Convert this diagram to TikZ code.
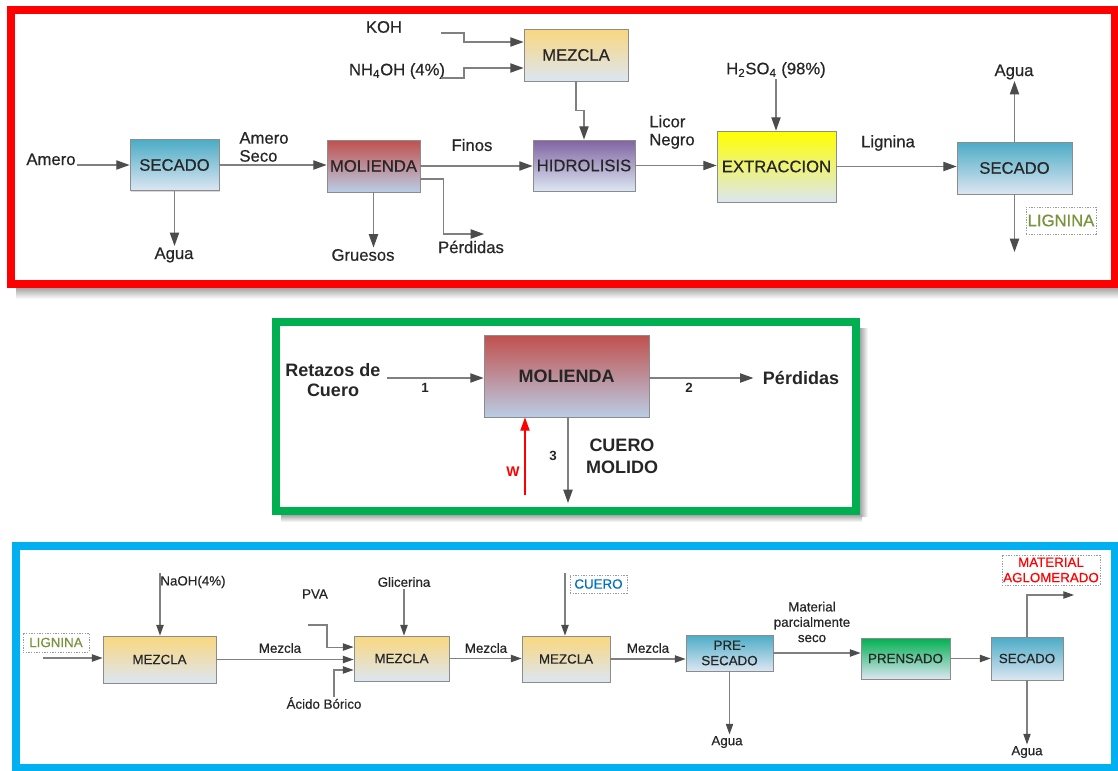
\documentclass[tikz,border=0pt]{standalone}
\usepackage{fontspec}
\setmainfont{Liberation Sans}
\newfontfamily\heavy{Liberation Sans}[FakeBold=0.5]
\usepackage{tikz}
\usetikzlibrary{arrows.meta,positioning,shadows}

\definecolor{secTop}{RGB}{75,172,198}
\definecolor{molTop}{RGB}{192,80,77}
\definecolor{molLow}{RGB}{185,205,229}
\definecolor{hidTop}{RGB}{128,100,162}
\definecolor{mezTop}{RGB}{249,215,126}
\definecolor{extTop}{RGB}{255,255,0}
\definecolor{prenTop}{RGB}{0,176,80}
\definecolor{boxLow}{RGB}{220,230,242}
\definecolor{frameRed}{RGB}{255,0,0}
\definecolor{frameGreen}{RGB}{0,176,80}
\definecolor{frameBlue}{RGB}{0,176,240}
\definecolor{olive}{RGB}{119,147,60}
\definecolor{cueroBlue}{RGB}{0,112,192}

\begin{document}
\begin{tikzpicture}[x=0.75pt, y=-0.75pt,
    box/.style={draw=black!45, line width=0.6pt, align=center, text=black!85, inner sep=1pt,
      bottom color=boxLow, drop shadow={shadow xshift=1pt, shadow yshift=-1pt, opacity=0.3}},
    flow/.style={draw=black!50, line width=0.8pt, -{Triangle[length=10pt, width=7pt, color=black!70]}},
    flowS/.style={flow, -{Triangle[length=8pt, width=5.5pt, color=black!70]}},
    lbl/.style={text=black!85, align=center, inner sep=1pt},
    tag/.style={draw=black!40, dash pattern=on 1pt off 1pt, line width=0.4pt, inner sep=1pt, align=center},
    big/.style={font=\heavy\fontsize{12.5}{13.5}\selectfont},
    mid/.style={font=\fontsize{13.5}{15}\selectfont\bfseries},
    num/.style={font=\fontsize{10}{12}\selectfont\bfseries},
    small/.style={font=\heavy\fontsize{10}{11.5}\selectfont}]
    \useasboundingbox (0,0) rectangle (1118,771);

    % Frames
    \shade[top color=black!35, bottom color=white] (16,288) rectangle (1118,299);
    \shade[left color=black!35, right color=white] (860,328) rectangle (868,516);
    \shade[top color=black!35, bottom color=white] (281,515) rectangle (862,522);
    \draw[frameRed, line width=6pt] (11,10) rectangle (1114.5,284);
    \draw[frameGreen, line width=6pt] (275.5,321.5) rectangle (856,511);
    \draw[frameBlue, line width=6pt] (15.5,546) rectangle (1114.5,768);

    % Nodes (top)
    \node[lbl, big, anchor=base] (amero) at (51,165) {Amero};
    \node[box, big, top color=secTop, minimum width=66.75pt, minimum height=38.25pt] (secA) at (174.5,165) {SECADO};
    \node[lbl, big, align=left] (ameroseco) at (264,147) {Amero\\Seco};
    \node[box, big, top color=molTop, bottom color=molLow, minimum width=69.75pt, minimum height=39pt] (molA) at (373.5,166) {MOLIENDA};
    \node[lbl, big] (finos) at (472,145) {Finos};
    \node[lbl, big] (aguaA) at (174,255) {Agua};
    \node[lbl, big] (gruesos) at (363,255) {Gruesos};
    \node[lbl, big] (perdA) at (471,247) {Pérdidas};
    \node[lbl, big] (koh) at (384,27) {KOH};
    \node[lbl, big] (nhoh) at (397,71) {NH\textsubscript{4}OH (4\%)};
    \node[box, big, top color=mezTop, minimum width=78pt, minimum height=39pt] (mezA) at (576,55) {MEZCLA};
    \node[box, big, top color=hidTop, minimum width=76.5pt, minimum height=38.25pt] (hidA) at (584,165.5) {HIDROLISIS};
    \node[lbl, big, align=left] (licor) at (672,132) {Licor\\Negro};
    \node[lbl, big] (acid) at (776,70) {H\textsubscript{2}SO\textsubscript{4} (98\%)};
    \node[box, big, top color=extTop, minimum width=89.25pt, minimum height=53.25pt] (extA) at (776.5,166.5) {EXTRACCION};
    \node[lbl, big] (lignina) at (888,143) {Lignina};
    \node[box, big, top color=secTop, minimum width=86.25pt, minimum height=39pt] (secB) at (1014.5,168) {SECADO};
    \node[lbl, big] (aguaB) at (1014,72) {Agua};
    \node[tag, big, text=olive, minimum width=52.5pt, minimum height=20pt] (ligA) at (1061,220.5) {LIGNINA};
    \coordinate (kohin) at (441,33);
    \coordinate (nhin) at (441,78);
    \coordinate (perdAin) at (484,234);
    \coordinate (ligout) at (1014.5,252);

    % Edges (top)
    \draw[flow] (amero.base east) -- (secA.west |- amero.base);
    \draw[flow] (secA.east) -- (secA.east -| molA.west);
    \draw[flow] (molA.east) -- (molA.east -| hidA.west);
    \draw[flow] (secA.south) -- (secA.south |- aguaA.north);
    \draw[flow] (molA.south) -- (molA.south |- gruesos.north);
    \draw[flow] ([yshift=-9.75pt]molA.east) -- ++(23,0) |- (perdAin);
    \draw[flow] (kohin) -- ++(23,0) |- ([yshift=9.75pt]mezA.west);
    \draw[flow] (nhin) -- ++(23,0) |- ([yshift=-9.75pt]mezA.west);
    \draw[flow] (mezA.south) -- ++(0,29) -| (hidA.north);
    \draw[flow] (hidA.east) -- (hidA.east -| extA.west);
    \draw[flow] (acid.south) -- (acid.south |- extA.north);
    \draw[flow] (extA.east) -- (extA.east -| secB.west);
    \draw[flow] (secB.north) -- (secB.north |- aguaB.south);
    \draw[flow] (secB.south) -- (ligout);

    % Nodes (middle)
    \node[box, mid, top color=molTop, bottom color=molLow, minimum width=123.75pt, minimum height=61.5pt] (molB) at (566.5,376) {MOLIENDA};
    \node[lbl, mid] (retazos) at (333,380) {Retazos de\\Cuero};
    \node[lbl, mid] (perdB) at (801,378) {Pérdidas};
    \node[lbl, mid] (molido) at (622,456) {CUERO\\[1.5pt]MOLIDO};
    \node[lbl, num] (n1) at (425,388) {1};
    \node[lbl, num] (n2) at (689,388) {2};
    \node[lbl, num] (n3) at (553,456) {3};
    \node[lbl, num, text=red, font=\fontsize{10.5}{12}\selectfont\bfseries] (w) at (513,472) {W};
    \coordinate (retin) at (387,378);
    \coordinate (cuerout) at (568,503);
    \coordinate (win) at (525,495);

    % Edges (middle)
    \draw[flow] (retin) -- (retin -| molB.west);
    \draw[flow, shorten >=6pt] (molB.east |- retin) -- (perdB.west |- retin);
    \draw[flow] (molB.south -| cuerout) -- (cuerout);
    \draw[flow, draw=red, -{Triangle[length=10pt, width=7pt, color=red]}] (win) -- (win |- molB.south);

    % Nodes (bottom)
    \node[tag, small, text=olive, minimum width=49.5pt, minimum height=14.25pt] (ligC) at (56,642.5) {LIGNINA};
    \node[box, small, top color=mezTop, minimum width=84.75pt, minimum height=35.25pt] (mezC1) at (159.5,659.5) {MEZCLA};
    \node[lbl, small] (naoh) at (193,582) {NaOH(4\%)};
    \node[lbl, small] (m1) at (280,648) {Mezcla};
    \node[lbl, small] (pva) at (315,594) {PVA};
    \node[lbl, small] (glic) at (404,582) {Glicerina};
    \node[lbl, small] (acido) at (324,703) {Ácido Bórico};
    \node[box, small, top color=mezTop, minimum width=71.25pt, minimum height=33.75pt] (mezC2) at (401.5,658.5) {MEZCLA};
    \node[lbl, small] (m2) at (486,648) {Mezcla};
    \node[box, small, top color=mezTop, minimum width=66pt, minimum height=34.5pt] (mezC3) at (566,659) {MEZCLA};
    \node[tag, small, text=cueroBlue, minimum width=42.75pt, minimum height=13.5pt] (cueroC) at (598.5,584) {CUERO};
    \node[lbl, small] (m3) at (648,648) {Mezcla};
    \node[box, small, top color=secTop, minimum width=65.25pt, minimum height=27pt] (preC) at (729.5,653) {PRE-\\SECADO};
    \node[lbl, small] (aguaC1) at (727,742) {Agua};
    \node[lbl, small] (mat) at (812,622) {Material\\parcialmente\\seco};
    \node[box, small, top color=prenTop, minimum width=66.75pt, minimum height=30.75pt] (prenC) at (905.5,658.5) {PRENSADO};
    \node[box, small, top color=secTop, minimum width=54pt, minimum height=32.25pt] (secC) at (1027,658.5) {SECADO};
    \node[lbl, small] (aguaC2) at (1027,752) {Agua};
    \node[tag, small, text=red, minimum width=73.5pt, minimum height=22.5pt] (matC) at (1051,570) {MATERIAL\\AGLOMERADO};
    \coordinate (ligin) at (43,658);
    \coordinate (naohin) at (160,573);
    \coordinate (pvain) at (308,625);
    \coordinate (acidin) at (334,697);
    \coordinate (cueroin) at (565,573);
    \coordinate (matout) at (1074,595);

    % Edges (bottom)
    \draw[flowS] (ligin) -- (ligin -| mezC1.west);
    \draw[flowS] (naohin) -- (naohin |- mezC1.north);
    \draw[flowS] (mezC1.east) -- (mezC1.east -| mezC2.west);
    \draw[flowS] (pvain) -- ++(19,0) |- ([yshift=8.6pt]mezC2.west);
    \draw[flowS] (acidin) |- ([yshift=-8.6pt]mezC2.west);
    \draw[flowS] (glic.south) -- (glic.south |- mezC2.north);
    \draw[flowS] (mezC2.east) -- (mezC2.east -| mezC3.west);
    \draw[flowS] (cueroin) -- (cueroin |- mezC3.north);
    \draw[flowS] (mezC3.east) -- (mezC3.east -| preC.west);
    \draw[flowS] (preC.south) -- (preC.south |- aguaC1.north);
    \draw[flowS] (preC.east) -- (preC.east -| prenC.west);
    \draw[flowS] (prenC.east) -- (prenC.east -| secC.west);
    \draw[flowS] (secC.south) -- (secC.south |- aguaC2.north);
    \draw[flowS] (secC.north) |- (matout);
  \end{tikzpicture}
\end{document}
